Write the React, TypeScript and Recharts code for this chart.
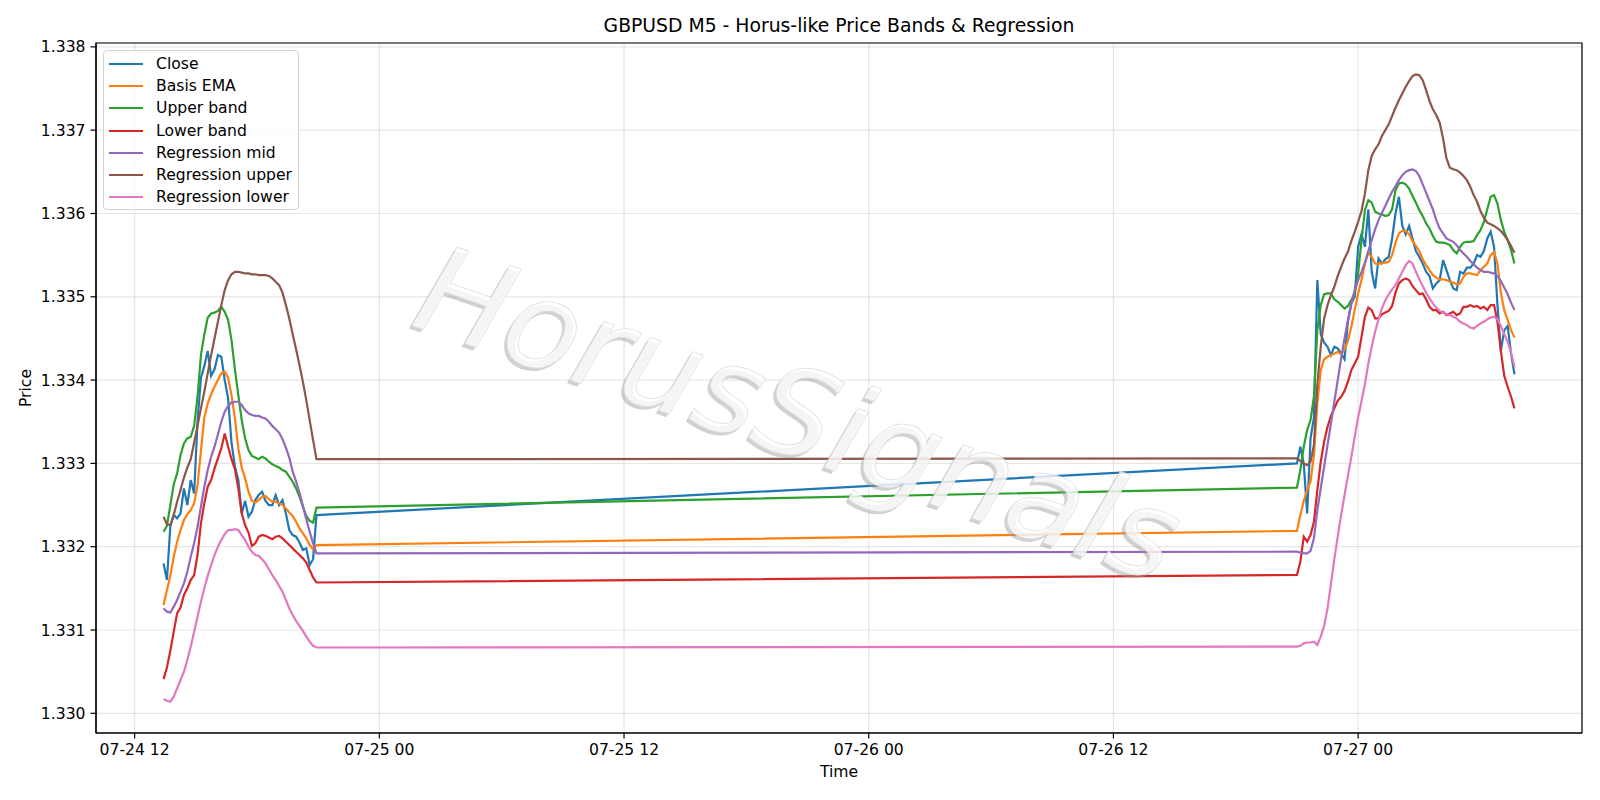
import React from 'react';
import { LineChart, Line, XAxis, YAxis, CartesianGrid, Legend, ReferenceArea } from 'recharts';

// ---- categories (5-minute bars sampled every 10 minutes) ----
const timeLabels = [
  '07-24 13:25','07-24 13:35','07-24 13:45','07-24 13:55','07-24 14:05','07-24 14:15','07-24 14:25','07-24 14:35','07-24 14:45','07-24 14:55',
  '07-24 15:05','07-24 15:15','07-24 15:25','07-24 15:35','07-24 15:45','07-24 15:55','07-24 16:05','07-24 16:15','07-24 16:25','07-24 16:35',
  '07-24 16:45','07-24 16:55','07-24 17:05','07-24 17:15','07-24 17:25','07-24 17:35','07-24 17:45','07-24 17:55','07-24 18:05','07-24 18:15',
  '07-24 18:25','07-24 18:35','07-24 18:45','07-24 18:55','07-24 19:05','07-24 19:15','07-24 19:25','07-24 19:35','07-24 19:45','07-24 19:55',
  '07-24 20:05','07-24 20:15','07-24 20:25','07-24 20:35','07-24 20:45','07-24 20:55',
  '07-26 21:00','07-26 21:10','07-26 21:20','07-26 21:30','07-26 21:40','07-26 21:50','07-26 22:00','07-26 22:10','07-26 22:20','07-26 22:30',
  '07-26 22:40','07-26 22:50','07-26 23:00','07-26 23:10','07-26 23:20','07-26 23:30','07-26 23:40','07-26 23:50',
  '07-27 00:00','07-27 00:10','07-27 00:20','07-27 00:30','07-27 00:40','07-27 00:50','07-27 01:00','07-27 01:10','07-27 01:20','07-27 01:30',
  '07-27 01:40','07-27 01:50','07-27 02:00','07-27 02:10','07-27 02:20','07-27 02:30','07-27 02:40','07-27 02:50','07-27 03:00','07-27 03:10',
  '07-27 03:20','07-27 03:30','07-27 03:40','07-27 03:50','07-27 04:00','07-27 04:10','07-27 04:20','07-27 04:30','07-27 04:40','07-27 04:50',
  '07-27 05:00','07-27 05:10','07-27 05:20','07-27 05:30','07-27 05:40','07-27 05:50','07-27 06:00','07-27 06:10','07-27 06:20','07-27 06:30',
  '07-27 06:40','07-27 06:50','07-27 07:00','07-27 07:10','07-27 07:20','07-27 07:30','07-27 07:40',
];

// ---- series ----
const closeVals = [
  1.33180,1.33160,1.33225,1.33238,1.33234,1.33240,1.33270,1.33250,1.33280,1.33264,
  1.33350,1.33403,1.33417,1.33435,1.33405,1.33413,1.33430,1.33428,1.33400,1.33378,
  1.33325,1.33296,1.33280,1.33240,1.33255,1.33236,1.33242,1.33256,1.33262,1.33266,
  1.33255,1.33250,1.33250,1.33262,1.33250,1.33256,1.33240,1.33220,1.33214,1.33212,
  1.33205,1.33196,1.33198,1.33178,1.33185,1.33238,
  1.33300,1.33320,1.33300,1.33240,1.33330,1.33355,1.33520,1.33455,1.33445,1.33440,
  1.33430,1.33440,1.33438,1.33432,1.33425,1.33470,1.33492,1.33500,1.33560,1.33575,
  1.33560,1.33605,1.33530,1.33510,1.33546,1.33540,1.33545,1.33548,1.33570,1.33600,
  1.33620,1.33585,1.33575,1.33585,1.33570,1.33555,1.33548,1.33540,1.33530,1.33525,
  1.33510,1.33516,1.33520,1.33544,1.33532,1.33520,1.33510,1.33508,1.33530,1.33528,
  1.33535,1.33535,1.33540,1.33550,1.33548,1.33555,1.33570,1.33578,1.33560,1.33490,
  1.33435,1.33460,1.33465,1.33432,1.33407,
];
const basisVals = [
  1.33130,1.33148,1.33165,1.33188,1.33206,1.33220,1.33232,1.33239,1.33244,1.33252,
  1.33274,1.33315,1.33355,1.33372,1.33383,1.33392,1.33400,1.33408,1.33410,1.33403,
  1.33382,1.33354,1.33318,1.33295,1.33282,1.33266,1.33255,1.33253,1.33256,1.33260,
  1.33261,1.33257,1.33254,1.33254,1.33252,1.33250,1.33246,1.33241,1.33237,1.33230,
  1.33222,1.33216,1.33210,1.33202,1.33197,1.33202,
  1.33219,1.33238,1.33255,1.33268,1.33278,1.33310,1.33372,1.33412,1.33425,1.33428,
  1.33430,1.33432,1.33434,1.33431,1.33437,1.33447,1.33464,1.33484,1.33504,1.33520,
  1.33540,1.33553,1.33548,1.33540,1.33539,1.33541,1.33541,1.33542,1.33550,1.33565,
  1.33576,1.33579,1.33579,1.33575,1.33567,1.33561,1.33555,1.33545,1.33538,1.33532,
  1.33526,1.33523,1.33521,1.33521,1.33520,1.33518,1.33517,1.33515,1.33516,1.33524,
  1.33528,1.33528,1.33527,1.33526,1.33532,1.33536,1.33540,1.33550,1.33554,1.33540,
  1.33505,1.33484,1.33472,1.33460,1.33451,
];
const upperVals = [
  1.33218,1.33225,1.33250,1.33275,1.33288,1.33310,1.33324,1.33330,1.33332,1.33345,
  1.33380,1.33430,1.33455,1.33475,1.33480,1.33481,1.33483,1.33488,1.33482,1.33472,
  1.33448,1.33413,1.33382,1.33352,1.33330,1.33316,1.33309,1.33307,1.33305,1.33308,
  1.33306,1.33302,1.33299,1.33297,1.33295,1.33292,1.33290,1.33284,1.33278,1.33270,
  1.33260,1.33248,1.33237,1.33231,1.33229,1.33247,
  1.33271,1.33292,1.33320,1.33340,1.33352,1.33380,1.33460,1.33490,1.33503,1.33504,
  1.33504,1.33497,1.33494,1.33490,1.33486,1.33489,1.33496,1.33504,1.33528,1.33568,
  1.33604,1.33616,1.33613,1.33602,1.33600,1.33599,1.33597,1.33598,1.33605,1.33628,
  1.33636,1.33637,1.33635,1.33630,1.33621,1.33613,1.33604,1.33597,1.33588,1.33582,
  1.33573,1.33566,1.33565,1.33565,1.33564,1.33562,1.33556,1.33552,1.33560,1.33565,
  1.33566,1.33566,1.33567,1.33574,1.33580,1.33590,1.33605,1.33620,1.33622,1.33612,
  1.33592,1.33578,1.33568,1.33556,1.33540,
];
const lowerVals = [
  1.33041,1.33055,1.33075,1.33098,1.33120,1.33127,1.33142,1.33150,1.33160,1.33166,
  1.33190,1.33228,1.33252,1.33272,1.33280,1.33294,1.33306,1.33318,1.33336,1.33320,
  1.33305,1.33293,1.33270,1.33240,1.33226,1.33217,1.33201,1.33204,1.33212,1.33214,
  1.33213,1.33211,1.33209,1.33212,1.33213,1.33210,1.33206,1.33202,1.33198,1.33194,
  1.33190,1.33186,1.33181,1.33172,1.33163,1.33157,
  1.33166,1.33182,1.33212,1.33206,1.33214,1.33230,1.33268,1.33302,1.33326,1.33344,
  1.33357,1.33366,1.33375,1.33380,1.33387,1.33398,1.33412,1.33420,1.33428,1.33452,
  1.33476,1.33487,1.33484,1.33474,1.33474,1.33479,1.33481,1.33483,1.33489,1.33505,
  1.33516,1.33520,1.33522,1.33520,1.33513,1.33508,1.33503,1.33504,1.33497,1.33488,
  1.33484,1.33484,1.33480,1.33482,1.33478,1.33480,1.33482,1.33478,1.33480,1.33488,
  1.33488,1.33490,1.33488,1.33489,1.33486,1.33488,1.33484,1.33490,1.33490,1.33470,
  1.33435,1.33405,1.33392,1.33380,1.33366,
];
const regMidVals = [
  1.33126,1.33122,1.33121,1.33128,1.33136,1.33146,1.33156,1.33170,1.33188,1.33204,
  1.33224,1.33248,1.33272,1.33292,1.33308,1.33320,1.33335,1.33350,1.33362,1.33369,
  1.33373,1.33374,1.33374,1.33370,1.33364,1.33360,1.33358,1.33357,1.33357,1.33355,
  1.33354,1.33350,1.33345,1.33341,1.33337,1.33329,1.33319,1.33307,1.33290,1.33278,
  1.33265,1.33249,1.33233,1.33218,1.33204,1.33192,
  1.33194,1.33193,1.33192,1.33192,1.33195,1.33210,1.33244,1.33270,1.33296,1.33322,
  1.33348,1.33374,1.33400,1.33426,1.33450,1.33472,1.33492,1.33508,1.33520,1.33530,
  1.33541,1.33555,1.33568,1.33581,1.33592,1.33601,1.33609,1.33618,1.33626,1.33633,
  1.33640,1.33646,1.33650,1.33652,1.33653,1.33651,1.33645,1.33635,1.33625,1.33615,
  1.33605,1.33592,1.33582,1.33576,1.33570,1.33568,1.33566,1.33562,1.33556,1.33552,
  1.33548,1.33543,1.33539,1.33535,1.33532,1.33530,1.33530,1.33529,1.33528,1.33525,
  1.33519,1.33511,1.33503,1.33493,1.33484,
];
const regUpperVals = [
  1.33236,1.33227,1.33226,1.33238,1.33254,1.33268,1.33283,1.33295,1.33305,1.33325,
  1.33345,1.33366,1.33386,1.33408,1.33430,1.33450,1.33470,1.33490,1.33508,1.33520,
  1.33527,1.33530,1.33530,1.33529,1.33528,1.33528,1.33527,1.33527,1.33526,1.33526,
  1.33526,1.33525,1.33522,1.33518,1.33514,1.33505,1.33490,1.33474,1.33455,1.33437,
  1.33418,1.33398,1.33376,1.33352,1.33328,1.33305,
  1.33306,1.33303,1.33300,1.33298,1.33302,1.33322,1.33395,1.33440,1.33474,1.33490,
  1.33502,1.33512,1.33525,1.33536,1.33546,1.33554,1.33567,1.33578,1.33590,1.33603,
  1.33624,1.33652,1.33669,1.33677,1.33683,1.33693,1.33700,1.33707,1.33717,1.33727,
  1.33736,1.33744,1.33752,1.33759,1.33765,1.33767,1.33766,1.33760,1.33748,1.33735,
  1.33725,1.33718,1.33709,1.33690,1.33666,1.33655,1.33653,1.33652,1.33649,1.33645,
  1.33640,1.33632,1.33622,1.33614,1.33603,1.33595,1.33589,1.33587,1.33585,1.33582,
  1.33579,1.33574,1.33568,1.33561,1.33553,
];
const regLowerVals = [
  1.33017,1.33015,1.33014,1.33020,1.33030,1.33040,1.33050,1.33064,1.33080,1.33098,
  1.33116,1.33134,1.33150,1.33165,1.33178,1.33190,1.33200,1.33208,1.33215,1.33220,
  1.33220,1.33221,1.33220,1.33214,1.33208,1.33200,1.33194,1.33190,1.33189,1.33185,
  1.33180,1.33173,1.33166,1.33160,1.33153,1.33146,1.33136,1.33126,1.33118,1.33111,
  1.33105,1.33099,1.33092,1.33086,1.33081,1.33079,
  1.33080,1.33081,1.33084,1.33085,1.33085,1.33086,1.33082,1.33092,1.33105,1.33126,
  1.33155,1.33185,1.33212,1.33238,1.33262,1.33285,1.33308,1.33332,1.33355,1.33375,
  1.33395,1.33420,1.33440,1.33458,1.33473,1.33486,1.33496,1.33503,1.33509,1.33514,
  1.33522,1.33530,1.33538,1.33543,1.33540,1.33530,1.33521,1.33513,1.33505,1.33498,
  1.33492,1.33487,1.33483,1.33481,1.33479,1.33478,1.33476,1.33474,1.33470,1.33468,
  1.33466,1.33463,1.33462,1.33465,1.33468,1.33470,1.33473,1.33475,1.33476,1.33473,
  1.33465,1.33455,1.33446,1.33433,1.33416,
];

const xTickLabels = ['07-24 12', '07-25 00', '07-25 12', '07-26 00', '07-26 12', '07-27 00'];
const yTickValues = [1.330, 1.331, 1.332, 1.333, 1.334, 1.335, 1.336, 1.337, 1.338];

const seriesNames = ['Close', 'Basis EMA', 'Upper band', 'Lower band', 'Regression mid', 'Regression upper', 'Regression lower'];
const seriesKeys = ['close', 'basis', 'upper', 'lower', 'regMid', 'regUpper', 'regLower'];
const seriesColors = ['#1f77b4', '#ff7f0e', '#2ca02c', '#d62728', '#9467bd', '#8c564b', '#e377c2'];
const seriesValues = [closeVals, basisVals, upperVals, lowerVals, regMidVals, regUpperVals, regLowerVals];

const YEAR = 2026;
function parseTime(s: string): number {
  const [md, hm] = s.split(' ');
  const [mo, d] = md.split('-').map(Number);
  const [h, m] = (hm.includes(':') ? hm : hm + ':00').split(':').map(Number);
  return Date.UTC(YEAR, mo - 1, d, h, m);
}
const pad2 = (n: number) => (n < 10 ? '0' + n : '' + n);
function fmtTick(v: number): string {
  const d = new Date(v);
  return `${pad2(d.getUTCMonth() + 1)}-${pad2(d.getUTCDate())} ${pad2(d.getUTCHours())}`;
}

const rows = timeLabels.map((s, i) => {
  const r: Record<string, number> = { t: parseTime(s) };
  seriesKeys.forEach((k, j) => { r[k] = seriesValues[j][i]; });
  return r;
});

// matplotlib-like 5% margins
const tMin = rows[0].t;
const tMax = rows[rows.length - 1].t;
const xMin = tMin - 0.05 * (tMax - tMin);
const xMax = tMax + 0.05 * (tMax - tMin);
const allVals = seriesValues.flat();
const vMin = Math.min(...allVals);
const vMax = Math.max(...allVals);
const yMin = vMin - 0.05 * (vMax - vMin);
const yMax = vMax + 0.05 * (vMax - vMin);
const xTicks = xTickLabels.map(parseTime);

const FONT = 'DejaVu Sans, sans-serif';
const FS = 15.6;

function LegendBox(props: any) {
  const payload = [...(props.payload || [])].sort(
    (a: any, b: any) => seriesNames.indexOf(a.value) - seriesNames.indexOf(b.value)
  );
  return (
    <div style={{
      boxSizing: 'border-box', width: 196, height: 160, paddingTop: 2,
      background: 'rgba(255,255,255,0.8)', border: '1px solid #d3d3d3', borderRadius: 4,
      fontFamily: FONT, fontSize: FS, color: '#000',
    }}>
      {payload.map((p: any) => (
        <div key={p.value} style={{ height: 22.2, display: 'flex', alignItems: 'center', whiteSpace: 'nowrap' }}>
          <svg width={52} height={10} style={{ flex: 'none' }}>
            <line x1={5} x2={39} y1={5} y2={5} stroke={p.color} strokeWidth={2.2} />
          </svg>
          <span style={{ lineHeight: '22px' }}>{p.value}</span>
        </div>
      ))}
    </div>
  );
}

export default function App() {
  return (
    <div style={{ position: 'absolute', left: 0, top: 0, width: 1600, height: 800, background: '#fff', overflow: 'hidden' }}>
      <LineChart width={1600} height={800} data={rows} margin={{ top: 43, right: 18, bottom: 37, left: 36 }}>
        <CartesianGrid stroke="#b0b0b0" strokeOpacity={0.3} strokeWidth={1.2} />
        <XAxis
          dataKey="t" type="number" domain={[xMin, xMax]} ticks={xTicks} interval={0}
          allowDataOverflow tickFormatter={fmtTick} height={30} tickSize={5.5} tickMargin={5}
          axisLine={{ stroke: '#000', strokeWidth: 1.2 }} tickLine={{ stroke: '#000', strokeWidth: 1.2 }}
          tick={{ fill: '#000', fontSize: FS, fontFamily: FONT }}
        />
        <YAxis
          type="number" domain={[yMin, yMax]} ticks={yTickValues} interval={0} allowDataOverflow
          tickFormatter={(v: number) => v.toFixed(3)} width={60} tickSize={5.5} tickMargin={5}
          axisLine={{ stroke: '#000', strokeWidth: 1.2 }} tickLine={{ stroke: '#000', strokeWidth: 1.2 }}
          tick={{ fill: '#000', fontSize: FS, fontFamily: FONT }}
        />
        <ReferenceArea x1={xMin} x2={xMax} y1={yMin} y2={yMax} fill="none" stroke="#000" strokeWidth={1.2} ifOverflow="visible" />
        {seriesKeys.map((k, j) => (
          <Line key={k} type="linear" dataKey={k} name={seriesNames[j]} stroke={seriesColors[j]}
            strokeWidth={2.2} dot={false} activeDot={false} isAnimationActive={false} />
        ))}
        <Legend layout="vertical" align="center" verticalAlign="middle" content={<LegendBox />}
          wrapperStyle={{ left: 103, top: 50, width: 196, height: 160, right: 'auto', bottom: 'auto' }} />
      </LineChart>
      <svg width={1600} height={800} style={{ position: 'absolute', left: 0, top: 0, pointerEvents: 'none' }}>
        <text x={839} y={32} textAnchor="middle" fontFamily={FONT} fontSize={18.8} fill="#000">
          GBPUSD M5 - Horus-like Price Bands &amp; Regression
        </text>
        <text x={839} y={777} textAnchor="middle" fontFamily={FONT} fontSize={FS} fill="#000">Time</text>
        <text x={0} y={0} transform="translate(31,388) rotate(-90)" textAnchor="middle" fontFamily={FONT} fontSize={FS} fill="#000">Price</text>
        <g transform="translate(782,457) rotate(19)">
          <text x={0} y={0} textAnchor="middle" fontFamily={FONT} fontStyle="oblique" fontSize={122} fill="#9a9a9a" fillOpacity={0.45}>HorusSignals</text>
        </g>
        <g transform="translate(785,454) rotate(19)">
          <text x={0} y={0} textAnchor="middle" fontFamily={FONT} fontStyle="oblique" fontSize={122} fill="#ffffff" fillOpacity={0.78} stroke="#dcdcdc" strokeWidth={0.7}>HorusSignals</text>
        </g>
      </svg>
    </div>
  );
}
